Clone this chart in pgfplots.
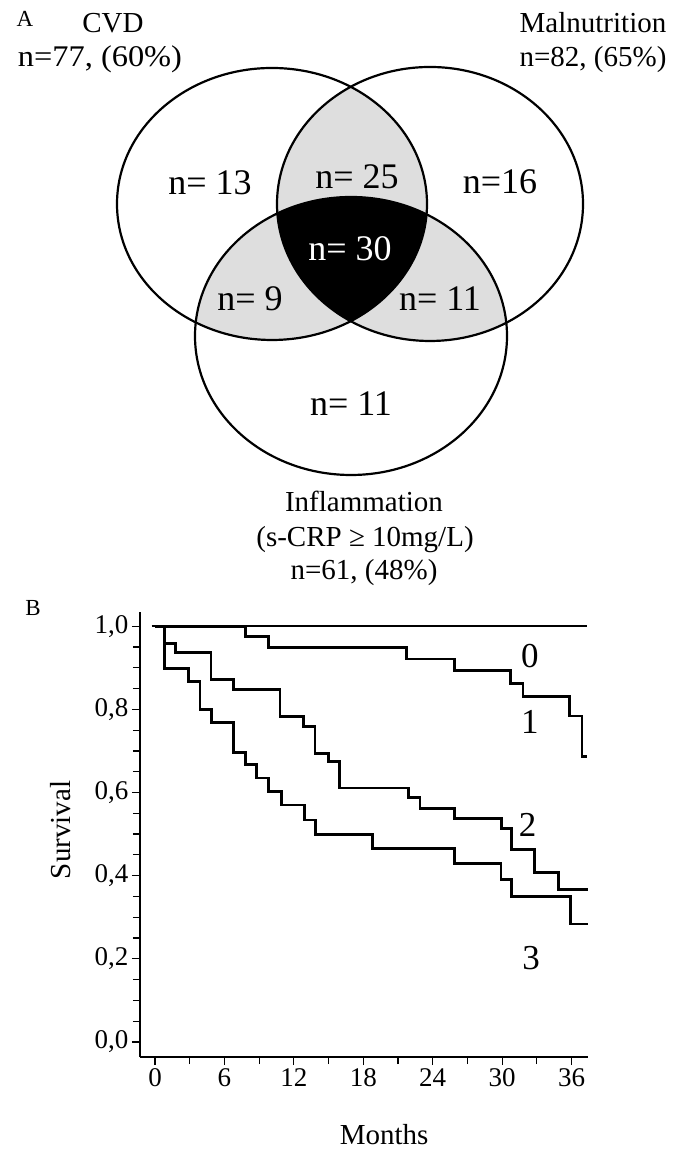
\documentclass[border=0pt]{standalone}
\usepackage{fontspec}
\setmainfont{Liberation Serif}
\usepackage{pgfplots}
\pgfplotsset{compat=1.18}
\definecolor{venngray}{RGB}{222,222,222}
\newcommand\fs[1]{\fontsize{#1}{#1}\selectfont}
\begin{document}
\begin{tikzpicture}
% ---------- Panel A: Venn diagram (1 axis unit = 1bp) ----------
\begin{axis}[at={(0,0)}, anchor=south west, width=685bp, height=1150bp,
  scale only axis, xmin=0, xmax=685, ymin=0, ymax=1150, hide axis, clip=false]
\path (axis cs:0,0) rectangle (axis cs:685,1150);
% pairwise overlaps (light gray)
\begin{scope}
\clip (axis cs:272,946) ellipse [x radius=155, y radius=136];
\fill[venngray] (axis cs:430,946) ellipse [x radius=153, y radius=137];
\end{scope}
\begin{scope}
\clip (axis cs:272,946) ellipse [x radius=155, y radius=136];
\fill[venngray] (axis cs:351,814) ellipse [x radius=156, y radius=139];
\end{scope}
\begin{scope}
\clip (axis cs:430,946) ellipse [x radius=153, y radius=137];
\fill[venngray] (axis cs:351,814) ellipse [x radius=156, y radius=139];
\end{scope}
% triple overlap (black)
\begin{scope}
\clip (axis cs:272,946) ellipse [x radius=155, y radius=136];
\clip (axis cs:430,946) ellipse [x radius=153, y radius=137];
\fill[black] (axis cs:351,814) ellipse [x radius=156, y radius=139];
\end{scope}
% outlines
\draw[line width=2.2bp] (axis cs:272,946) ellipse [x radius=155, y radius=136];
\draw[line width=2.2bp] (axis cs:430,946) ellipse [x radius=153, y radius=137];
\draw[line width=2.2bp] (axis cs:351,814) ellipse [x radius=156, y radius=139];
% texts
\node[anchor=base, font=\fs{23bp}] at (axis cs:25,1123) {A};
\node[anchor=base, font=\fs{29bp}] at (axis cs:113,1117) {CVD};
\node[anchor=base, font=\fs{30bp}, xscale=1.08] at (axis cs:100,1083) {n=77, (60\%)};
\node[anchor=base, font=\fs{29bp}] at (axis cs:593,1117) {Malnutrition};
\node[anchor=base, font=\fs{29bp}] at (axis cs:593,1083) {n=82, (65\%)};
\node[anchor=base, font=\fs{36bp}] at (axis cs:210,955) {n= 13};
\node[anchor=base, font=\fs{36bp}] at (axis cs:357,961) {n= 25};
\node[anchor=base, font=\fs{36bp}] at (axis cs:500,956) {n=16};
\node[anchor=base, font=\fs{36bp}, text=white] at (axis cs:350,889) {n= 30};
\node[anchor=base, font=\fs{36bp}] at (axis cs:250,839) {n= 9};
\node[anchor=base, font=\fs{36bp}] at (axis cs:440,839) {n= 11};
\node[anchor=base, font=\fs{36bp}] at (axis cs:351,734) {n= 11};
\node[anchor=base, font=\fs{29bp}] at (axis cs:364,638) {Inflammation};
\node[anchor=base, font=\fs{29bp}] at (axis cs:365,603) {(s-CRP ≥ 10mg/L)};
\node[anchor=base, font=\fs{29bp}] at (axis cs:364,570) {n=61, (48\%)};
\node[anchor=base, font=\fs{23bp}] at (axis cs:33,534) {B};
\end{axis}
% ---------- Panel B: Kaplan-Meier curves ----------
\begin{axis}[at={(140bp,93bp)}, anchor=south west, width=448bp, height=445bp,
  scale only axis,
  xmin=-1.3, xmax=37.42, ymin=-0.036, ymax=1.034,
  axis x line*=bottom, axis y line*=left,
  axis line style={line width=1.5bp, -},
  xtick={0,6,12,18,24,30,36}, minor xtick={3,9,15,21,27,33},
  ytick={0,0.2,0.4,0.6,0.8,1.0},
  minor ytick={0.05,0.1,0.15,0.25,0.3,0.35,0.45,0.5,0.55,0.65,0.7,0.75,0.85,0.9,0.95},
  tick align=outside, major tick length=8bp, minor tick length=7bp,
  every tick/.style={line width=1.2bp, black},
  tick label style={font=\fs{27bp}},
  yticklabel style={/pgf/number format/.cd, fixed, fixed zerofill, precision=1, use comma},
  /pgf/number format/assume math mode=true,
  xlabel={Months}, ylabel={Survival},
  xlabel style={font=\fs{29bp}, at={(axis cs:19.8,-0.222)}, anchor=center, inner sep=0pt},
  ylabel style={font=\fs{29bp}, at={(axis cs:-8.2,0.51)}, anchor=center, inner sep=0pt},
  clip=false,
]
\addplot[const plot, line width=2.6bp, black] coordinates {(-0.3,1) (37.3,1)};
\addplot[const plot, line width=2.8bp, black] coordinates {
(0,1) (7.8,0.975) (9.8,0.948) (21.75,0.921) (25.9,0.894) (30.7,0.862)
(31.8,0.830) (35.8,0.784) (36.9,0.686) (37.3,0.686)};
\addplot[const plot, line width=2.8bp, black] coordinates {
(0,1) (0.8,0.958) (1.8,0.937) (4.84,0.872) (6.77,0.848) (10.8,0.782)
(12.82,0.758) (13.83,0.694) (14.98,0.674) (15.93,0.611) (21.9,0.588)
(22.9,0.562) (25.9,0.537) (29.96,0.514) (30.8,0.462) (32.8,0.407)
(34.9,0.367) (37.4,0.367)};
\addplot[const plot, line width=2.8bp, black] coordinates {
(0,1) (0.8,0.898) (2.88,0.867) (3.89,0.799) (4.9,0.768) (6.8,0.697)
(7.8,0.667) (8.8,0.635) (9.8,0.603) (10.9,0.570) (12.9,0.534)
(13.9,0.499) (18.8,0.466) (25.9,0.430) (29.9,0.391) (30.8,0.349)
(35.9,0.284) (37.4,0.284)};
\node[anchor=base, font=\fs{35bp}] at (axis cs:32.4,0.901) {0};
\node[anchor=base, font=\fs{35bp}] at (axis cs:32.4,0.743) {1};
\node[anchor=base, font=\fs{35bp}] at (axis cs:32.2,0.493) {2};
\node[anchor=base, font=\fs{35bp}] at (axis cs:32.5,0.175) {3};
\end{axis}
\end{tikzpicture}
\end{document}
